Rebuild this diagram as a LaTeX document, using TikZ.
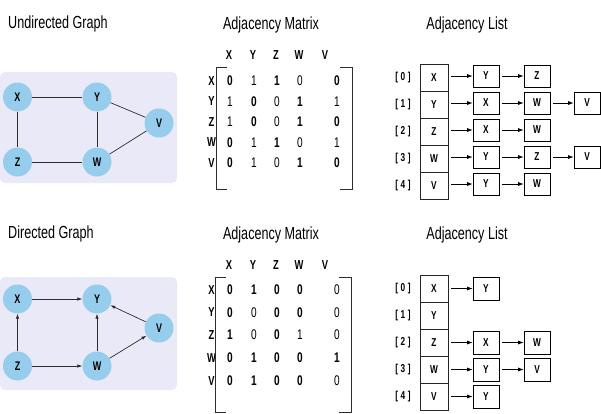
\documentclass[tikz,border=0pt]{standalone}
\usepackage{fontspec}
\setmainfont[FakeStretch=0.72]{Liberation Sans}
\usetikzlibrary{arrows.meta}
\definecolor{bgc}{RGB}{234,233,248}
\definecolor{nodec}{RGB}{150,205,236}
\definecolor{edgec}{RGB}{45,45,45}
\begin{document}
\begin{tikzpicture}[x=1pt,y=-1pt,
 title/.style={font=\fontsize{17.5}{17.5}\selectfont, inner sep=0},
 vert/.style={circle, fill=nodec, minimum size=29pt, inner sep=0, font=\fontsize{12.5}{12.5}\selectfont\bfseries},
 uedge/.style={draw=edgec, line width=0.7pt},
 dedge/.style={uedge, -{Latex[length=5pt,width=3.5pt]}},
 hdr/.style={font=\fontsize{13}{13}\selectfont\bfseries, inner sep=0},
 ent/.style={font=\fontsize{14}{14}\selectfont, inner sep=0},
 idx/.style={font=\fontsize{11.5}{11.5}\selectfont\bfseries, inner sep=0},
 mainbox/.style={draw=black!85, line width=0.7pt, minimum width=28pt, minimum height=27pt, inner sep=0, font=\fontsize{11.5}{11.5}\selectfont\bfseries},
 subbox/.style={draw=black, line width=0.7pt, minimum width=26pt, minimum height=22pt, inner sep=0, font=\fontsize{11.5}{11.5}\selectfont\bfseries},
 larrow/.style={draw=black, line width=0.7pt, shorten <=3pt, -{Latex[length=5.5pt,width=4pt]}},
 brk/.style={draw=edgec, line width=0.8pt}
]
\useasboundingbox (0,0) rectangle (601,413);

% ---------- titles
\node[title, anchor=base west] (t1) at (8,28) {Undirected Graph};
\node[title, anchor=base] (t2) at (271,29) {Adjacency Matrix};
\node[title, anchor=base] (t3) at (467,29) {Adjacency List};
\node[title, anchor=base west] (t4) at (8,238) {Directed Graph};
\node[title, anchor=base] (t5) at (271,239) {Adjacency Matrix};
\node[title, anchor=base] (t6) at (467,239) {Adjacency List};

% ---------- undirected graph
\fill[bgc, rounded corners=5pt] (0,72) rectangle (177,183);
\node[vert] (ux) at (17.5,97) {X};
\node[vert] (uy) at (97,97) {Y};
\node[vert] (uv) at (159,123) {V};
\node[vert] (uz) at (17.5,162) {Z};
\node[vert] (uw) at (97,162) {W};
\draw[uedge] (ux) -- (uy);
\draw[uedge] (ux) -- (uz);
\draw[uedge] (uy) -- (uw);
\draw[uedge] (uz) -- (uw);
\draw[uedge] (uy) -- (uv);
\draw[uedge] (uw) -- (uv);

% ---------- directed graph
\fill[bgc, rounded corners=5pt] (0,277) rectangle (177,390);
\node[vert] (dx) at (17.5,299) {X};
\node[vert] (dy) at (97,299) {Y};
\node[vert] (dv) at (159,328) {V};
\node[vert] (dz) at (17.5,366) {Z};
\node[vert] (dw) at (97,366) {W};
\draw[dedge] (dx) -- (dy);
\draw[dedge] (dz) -- (dx);
\draw[dedge] (dz) -- (dw);
\draw[dedge] (dw) -- (dy);
\draw[dedge] (dw) -- (dv);
\draw[dedge] (dv) -- (dy);

% ---------- top matrix
\foreach \c/\x [count=\i] in {X/229,Y/253,Z/276,W/299,V/325}
  \node[hdr] (tch\i) at (\x,55) {\c};
\foreach \c/\y [count=\i] in {X/81,Y/101.5,Z/122,W/142.5,V/163}
  \node[hdr] (trh\i) at (211.5,\y) {\c};
\foreach \v/\x [count=\i] in {\textbf{0}/230,1/254,\textbf{1}/277,0/300,\textbf{0}/337}
  \node[ent] (ta1-\i) at (\x,81) {\v};
\foreach \v/\x [count=\i] in {1/230,\textbf{0}/254,0/277,\textbf{1}/300,1/337}
  \node[ent] (ta2-\i) at (\x,101.5) {\v};
\foreach \v/\x [count=\i] in {1/230,\textbf{0}/254,0/277,\textbf{1}/300,\textbf{0}/337}
  \node[ent] (ta3-\i) at (\x,122) {\v};
\foreach \v/\x [count=\i] in {\textbf{0}/230,1/254,\textbf{1}/277,0/300,1/337}
  \node[ent] (ta4-\i) at (\x,142.5) {\v};
\foreach \v/\x [count=\i] in {\textbf{0}/230,1/254,0/277,\textbf{1}/300,\textbf{0}/337}
  \node[ent] (ta5-\i) at (\x,163) {\v};
\draw[brk] (227,67) -- (216,67) -- (216,189) -- (227,189);
\draw[brk] (340,67) -- (352,67) -- (352,189) -- (340,189);

% ---------- bottom matrix
\foreach \c/\x [count=\i] in {X/229,Y/253,Z/276,W/299,V/325}
  \node[hdr] (bch\i) at (\x,265) {\c};
\foreach \c/\y [count=\i] in {X/290,Y/312.5,Z/335,W/358,V/381}
  \node[hdr] (brh\i) at (211.5,\y) {\c};
\foreach \v/\x [count=\i] in {\textbf{0}/230,\textbf{1}/254,\textbf{0}/277,\textbf{0}/300,0/337}
  \node[ent] (ba1-\i) at (\x,290) {\v};
\foreach \v/\x [count=\i] in {\textbf{0}/230,0/254,\textbf{0}/277,\textbf{0}/300,0/337}
  \node[ent] (ba2-\i) at (\x,312.5) {\v};
\foreach \v/\x [count=\i] in {\textbf{1}/230,0/254,\textbf{0}/277,1/300,0/337}
  \node[ent] (ba3-\i) at (\x,335) {\v};
\foreach \v/\x [count=\i] in {\textbf{0}/230,\textbf{1}/254,\textbf{0}/277,\textbf{0}/300,\textbf{1}/337}
  \node[ent] (ba4-\i) at (\x,358) {\v};
\foreach \v/\x [count=\i] in {\textbf{0}/230,\textbf{1}/254,\textbf{0}/277,\textbf{0}/300,0/337}
  \node[ent] (ba5-\i) at (\x,381) {\v};
\draw[brk] (226,277) -- (215,277) -- (215,412) -- (226,412);
\draw[brk] (339,277) -- (351,277) -- (351,412) -- (339,412);

% ---------- top list
\foreach \c/\y [count=\i from 0] in {X/77.5,Y/104.5,Z/131.5,W/158.5,V/185.5}{
  \node[idx] (tix\i) at (403,\y) {[\kern2.5pt\i\kern2.5pt]};
  \node[mainbox] (tl\i) at (434,\y) {\c};
}
\node[subbox] (tl0a) at (486,76) {Y};
\node[subbox] (tl0b) at (537,76) {Z};
\node[subbox] (tl1a) at (486,103) {X};
\node[subbox] (tl1b) at (537,103) {W};
\node[subbox] (tl1c) at (587,103) {V};
\node[subbox] (tl2a) at (486,130) {X};
\node[subbox] (tl2b) at (537,130) {W};
\node[subbox] (tl3a) at (486,157) {Y};
\node[subbox] (tl3b) at (537,157) {Z};
\node[subbox] (tl3c) at (587,157) {V};
\node[subbox] (tl4a) at (486,184) {Y};
\node[subbox] (tl4b) at (537,184) {W};
\draw[larrow] (tl0.east |- tl0a) -- (tl0a.west);
\draw[larrow] (tl0a) -- (tl0b);
\draw[larrow] (tl1.east |- tl1a) -- (tl1a.west);
\draw[larrow] (tl1a) -- (tl1b);
\draw[larrow] (tl1b) -- (tl1c);
\draw[larrow] (tl2.east |- tl2a) -- (tl2a.west);
\draw[larrow] (tl2a) -- (tl2b);
\draw[larrow] (tl3.east |- tl3a) -- (tl3a.west);
\draw[larrow] (tl3a) -- (tl3b);
\draw[larrow] (tl3b) -- (tl3c);
\draw[larrow] (tl4.east |- tl4a) -- (tl4a.west);
\draw[larrow] (tl4a) -- (tl4b);

% ---------- bottom list
\foreach \c/\y [count=\i from 0] in {X/288.5,Y/315.5,Z/342.5,W/369.5,V/396.5}{
  \node[idx] (bix\i) at (403,\y) {[\kern2.5pt\i\kern2.5pt]};
  \node[mainbox] (bl\i) at (434,\y) {\c};
}
\node[subbox, minimum height=23pt] (bl0a) at (486,288.5) {Y};
\node[subbox, minimum height=23pt] (bl2a) at (486,342.5) {X};
\node[subbox, minimum height=23pt] (bl2b) at (537,342.5) {W};
\node[subbox, minimum height=23pt] (bl3a) at (486,369.5) {Y};
\node[subbox, minimum height=23pt] (bl3b) at (537,369.5) {V};
\node[subbox, minimum height=23pt] (bl4a) at (486,396.5) {Y};
\draw[larrow] (bl0) -- (bl0a);
\draw[larrow] (bl2) -- (bl2a);
\draw[larrow] (bl2a) -- (bl2b);
\draw[larrow] (bl3) -- (bl3a);
\draw[larrow] (bl3a) -- (bl3b);
\draw[larrow] (bl4) -- (bl4a);
\end{tikzpicture}
\end{document}
